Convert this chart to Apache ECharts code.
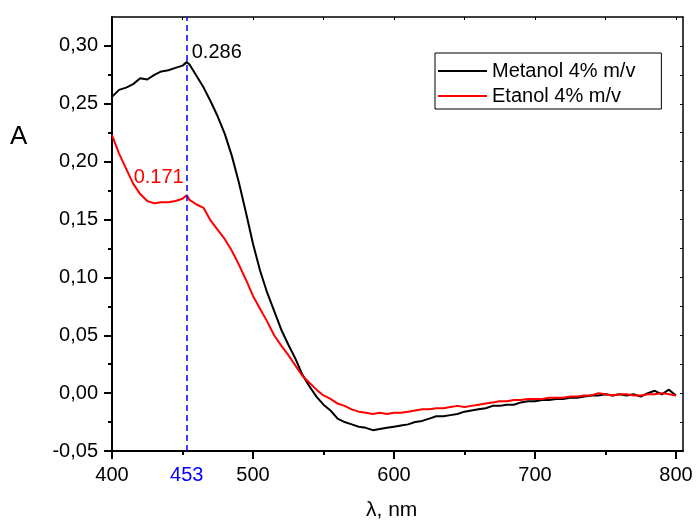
<!DOCTYPE html>
<html>
<head>
<meta charset="utf-8">
<script src="https://cdn.jsdelivr.net/npm/echarts@6/dist/echarts.min.js"></script>
<style>html,body{margin:0;padding:0;background:#fff;}#c{width:696px;height:525px;}</style>
</head>
<body>
<div id="c"></div>
<script>
var wavelengths = [400,405,410,415,420,425,430,435,440,445,450,453,455,460,465,470,475,480,485,490,495,500,505,510,515,520,525,530,535,540,545,550,555,560,565,570,575,580,585,590,595,600,605,610,615,620,625,630,635,640,645,650,655,660,665,670,675,680,685,690,695,700,705,710,715,720,725,730,735,740,745,750,755,760,765,770,775,780,785,790,795,800];
var metanol = [0.256,0.262,0.264,0.267,0.272,0.271,0.275,0.278,0.279,0.281,0.283,0.286,0.284,0.274,0.264,0.252,0.239,0.224,0.205,0.182,0.156,0.129,0.106,0.087,0.071,0.055,0.042,0.030,0.016,0.006,-0.003,-0.010,-0.015,-0.022,-0.025,-0.027,-0.029,-0.030,-0.032,-0.031,-0.030,-0.029,-0.028,-0.027,-0.025,-0.024,-0.022,-0.020,-0.020,-0.019,-0.018,-0.016,-0.015,-0.014,-0.013,-0.011,-0.011,-0.010,-0.010,-0.008,-0.007,-0.007,-0.006,-0.006,-0.005,-0.005,-0.004,-0.004,-0.003,-0.002,-0.002,-0.001,-0.002,-0.001,-0.002,-0.001,-0.003,0.000,0.002,-0.001,0.003,-0.002];
var etanol = [0.223,0.207,0.194,0.181,0.172,0.166,0.164,0.165,0.165,0.166,0.168,0.171,0.167,0.163,0.160,0.149,0.141,0.133,0.123,0.111,0.098,0.084,0.073,0.062,0.050,0.041,0.033,0.024,0.015,0.009,0.003,-0.002,-0.005,-0.009,-0.011,-0.014,-0.016,-0.017,-0.018,-0.017,-0.018,-0.017,-0.017,-0.016,-0.015,-0.014,-0.014,-0.013,-0.013,-0.012,-0.011,-0.012,-0.011,-0.010,-0.009,-0.008,-0.007,-0.007,-0.006,-0.006,-0.005,-0.005,-0.005,-0.004,-0.004,-0.004,-0.003,-0.003,-0.002,-0.002,0.000,-0.001,-0.002,-0.001,-0.001,-0.002,-0.002,-0.001,-0.001,0.000,-0.001,-0.002];
var seriesNames = ['Metanol 4% m/v', 'Etanol 4% m/v'];
var xMajorTicks = [400,500,600,700,800];
var xMinorTicks = [450,550,650,750];
var yMajorTicks = [-0.05,0,0.05,0.10,0.15,0.20,0.25,0.30];
var yMinorTicks = [-0.025,0.025,0.075,0.125,0.175,0.225,0.275];
var peakX = 453;
var peakMetanol = 0.286;
var peakEtanol = 0.171;

function pairs(ys){ return wavelengths.map(function(x,i){ return [x, ys[i]]; }); }
var FONT = 'Liberation Sans';
var chart = echarts.init(document.getElementById('c'));
var xMin = 400, xMax = 805, yMin = -0.05, yMax = 0.325;
function xAx(extra){
  return Object.assign({type:'value', min:xMin, max:xMax, gridIndex:0, splitLine:{show:false}}, extra);
}
function yAx(extra){
  return Object.assign({type:'value', min:yMin, max:yMax, gridIndex:0, splitLine:{show:false}}, extra);
}
chart.setOption({
  animation:false,
  backgroundColor:'#fff',
  textStyle:{fontFamily:FONT},
  grid:{left:112, right:13, top:17, bottom:74},
  legend:{
    left:435, top:53, orient:'vertical',
    data:[{name:seriesNames[0], icon:'rect'},{name:seriesNames[1], icon:'rect'}],
    itemWidth:49, itemHeight:2, itemGap:5,
    padding:[8,26,3,3],
    borderColor:'#000', borderWidth:1,
    textStyle:{fontFamily:FONT, fontSize:20, color:'#000'}
  },
  xAxis:[
    xAx({position:'bottom',
      axisLine:{onZero:false, lineStyle:{color:'#000', width:2}},
      axisTick:{customValues:xMajorTicks, length:8, lineStyle:{color:'#000', width:2}},
      axisLabel:{customValues:xMajorTicks, fontFamily:FONT, fontSize:20, color:'#000', margin:14}
    }),
    xAx({position:'bottom',
      axisLine:{show:false, onZero:false},
      axisTick:{customValues:xMinorTicks, length:4, lineStyle:{color:'#000', width:2}},
      axisLabel:{show:false}
    }),
    xAx({position:'top',
      axisLine:{onZero:false, lineStyle:{color:'#000', width:1.5}},
      axisTick:{customValues:xMajorTicks.concat(xMinorTicks), inside:true, length:3, lineStyle:{color:'#000', width:1}},
      axisLabel:{show:false}
    })
  ],
  yAxis:[
    yAx({position:'left',
      axisLine:{show:true, onZero:false, lineStyle:{color:'#000', width:2}},
      axisTick:{show:true, customValues:yMajorTicks, length:8, lineStyle:{color:'#000', width:2}},
      axisLabel:{customValues:yMajorTicks, fontFamily:FONT, fontSize:20, color:'#000', margin:14,
        formatter:function(v){ return v.toFixed(2).replace('.', ','); }}
    }),
    yAx({position:'left',
      axisLine:{show:false, onZero:false},
      axisTick:{show:true, customValues:yMinorTicks, length:4, lineStyle:{color:'#000', width:2}},
      axisLabel:{show:false}
    }),
    yAx({position:'right',
      axisLine:{show:true, onZero:false, lineStyle:{color:'#000', width:1.5}},
      axisTick:{show:true, customValues:yMajorTicks.concat(yMinorTicks), inside:true, length:3, lineStyle:{color:'#000', width:1}},
      axisLabel:{show:false}
    })
  ],
  series:[
    {name:seriesNames[0], type:'line', data:pairs(metanol), symbol:'none',
      lineStyle:{color:'#000', width:2}, itemStyle:{color:'#000'},
      markPoint:{symbol:'circle', symbolSize:0, silent:true,
        data:[{coord:[peakX, peakMetanol], label:{show:true, formatter:String(peakMetanol), position:'right', offset:[0,-10], fontFamily:FONT, fontSize:20, color:'#000'}}]},
      markLine:{symbol:['none','none'], silent:true,
        lineStyle:{color:'#0000ff', type:[6,4], width:1.5},
        label:{show:true, position:'start', formatter:String(peakX), distance:14, fontFamily:FONT, fontSize:20, color:'#0000ff'},
        data:[{xAxis:peakX}]}
    },
    {name:seriesNames[1], type:'line', data:pairs(etanol), symbol:'none',
      lineStyle:{color:'#ff0000', width:2}, itemStyle:{color:'#ff0000'},
      markPoint:{symbol:'circle', symbolSize:0, silent:true,
        data:[{coord:[peakX, peakEtanol], label:{show:true, formatter:String(peakEtanol), position:'left', offset:[2,-18], fontFamily:FONT, fontSize:20, color:'#ff0000'}}]}
    }
  ],
  graphic:[
    {type:'text', left:10, top:124, style:{text:'A', fontFamily:FONT, fontSize:26, fill:'#000'}},
    {type:'text', left:366, top:500, style:{text:'λ, nm', fontFamily:FONT, fontSize:21, fill:'#000'}}
  ]
});
</script>
</body>
</html>
